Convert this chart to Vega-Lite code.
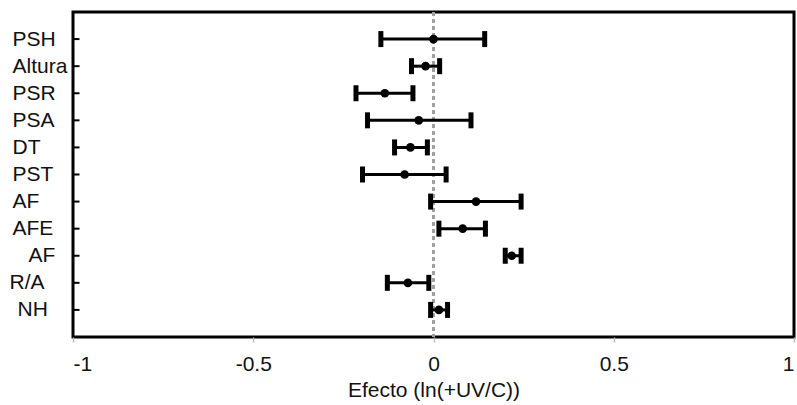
{
  "$schema": "https://vega.github.io/schema/vega-lite/v6.json",
  "width": 721,
  "height": 325,
  "autosize": {"type": "none"},
  "padding": {"left": 73, "top": 12, "right": 3, "bottom": 68},
  "background": "white",
  "config": {
    "view": {"stroke": "black", "strokeWidth": 3},
    "font": "Liberation Sans"
  },
  "data": {
    "values": [
      {"var": "PSH", "lo": -0.146, "pt": 0.0, "hi": 0.142},
      {"var": "Altura", "lo": -0.061, "pt": -0.022, "hi": 0.017},
      {"var": "PSR", "lo": -0.215, "pt": -0.135, "hi": -0.057},
      {"var": "PSA", "lo": -0.183, "pt": -0.041, "hi": 0.104},
      {"var": "DT", "lo": -0.108, "pt": -0.064, "hi": -0.017},
      {"var": "PST", "lo": -0.197, "pt": -0.08, "hi": 0.035},
      {"var": "AF", "lo": -0.008, "pt": 0.118, "hi": 0.243},
      {"var": "AFE", "lo": 0.015, "pt": 0.081, "hi": 0.144},
      {"var": "AF ", "lo": 0.199, "pt": 0.217, "hi": 0.243},
      {"var": "R/A", "lo": -0.128, "pt": -0.071, "hi": -0.013},
      {"var": "NH", "lo": -0.008, "pt": 0.015, "hi": 0.039}
    ]
  },
  "layer": [
    {
      "mark": {"type": "rule", "color": "#a0a0a0", "strokeDash": [4, 3], "strokeWidth": 2},
      "encoding": {
        "x": {"datum": 0, "type": "quantitative", "scale": {"domain": [-1, 1], "nice": false, "zero": false},
          "axis": {
            "values": [-1, -0.5, 0, 0.5, 1],
            "labelExpr": "(datum.value < 0 ? '-' : '') + format(abs(datum.value), '~g')",
            "grid": false,
            "domain": false,
            "tickColor": "#bbbbbb",
            "tickSize": 5,
            "tickWidth": 1.5,
            "labelPadding": 11,
            "labelFontSize": 21,
            "labelColor": "#111111",
            "title": "Efecto (ln(+UV/C))",
            "titleFontSize": 21,
            "titleFontWeight": "normal",
            "titleColor": "#111111",
            "titlePadding": 5
          }
        }
      }
    },
    {
      "mark": {"type": "rule", "color": "black", "strokeWidth": 2},
      "encoding": {
        "y": {"field": "var", "type": "nominal", "sort": null, "scale": {"type": "point", "padding": 1},
          "axis": {
            "title": null,
            "domain": false,
            "ticks": false,
            "tickSize": 0,
            "labelAlign": "left",
            "labelBaseline": "middle",
            "labelFontSize": 21,
            "labelColor": "#111111",
            "labelPadding": {"condition": [
              {"test": "datum.value == 'AF '", "value": 45},
              {"test": "datum.value == 'R/A'", "value": 64},
              {"test": "datum.value == 'NH'", "value": 56}
            ], "value": 61}
          }
        },
        "x": {"datum": -1, "type": "quantitative"},
        "x2": {"datum": -0.982}
      }
    },
    {
      "mark": {"type": "rule", "color": "black", "strokeWidth": 3},
      "encoding": {
        "y": {"field": "var", "type": "nominal", "sort": null},
        "x": {"field": "lo", "type": "quantitative"},
        "x2": {"field": "hi"}
      }
    },
    {
      "mark": {"type": "tick", "color": "black", "thickness": 5, "size": 16, "opacity": 1},
      "encoding": {
        "y": {"field": "var", "type": "nominal", "sort": null},
        "x": {"field": "lo", "type": "quantitative"}
      }
    },
    {
      "mark": {"type": "tick", "color": "black", "thickness": 5, "size": 16, "opacity": 1},
      "encoding": {
        "y": {"field": "var", "type": "nominal", "sort": null},
        "x": {"field": "hi", "type": "quantitative"}
      }
    },
    {
      "mark": {"type": "point", "filled": true, "color": "black", "size": 75, "opacity": 1},
      "encoding": {
        "y": {"field": "var", "type": "nominal", "sort": null},
        "x": {"field": "pt", "type": "quantitative"}
      }
    }
  ]
}
